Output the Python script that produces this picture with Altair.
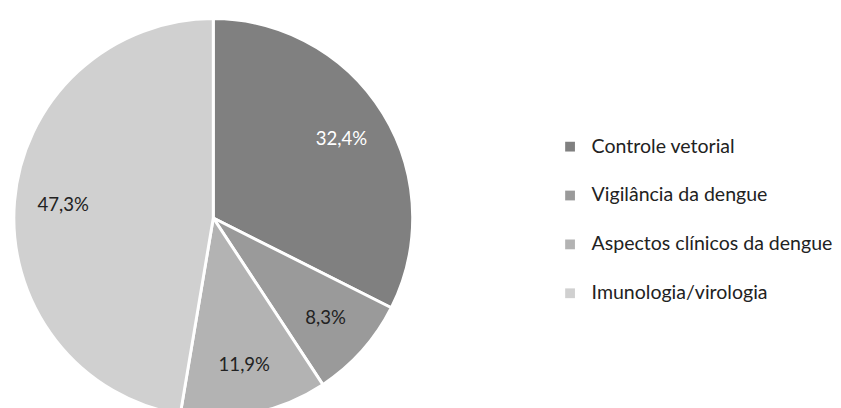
import altair as alt
import pandas as pd

categories = ["Controle vetorial", "Vigilância da dengue", "Aspectos clínicos da dengue", "Imunologia/virologia"]
values = [32.4, 8.3, 11.9, 47.3]
labels = ["32,4%", "8,3%", "11,9%", "47,3%"]
colors = ["#808080", "#9a9a9a", "#b3b3b3", "#d0d0d0"]
label_colors = ["#ffffff", "#222222", "#222222", "#222222"]

df = pd.DataFrame({
    "cat": categories,
    "val": values,
    "label": labels,
    "order": list(range(len(categories))),
    "lc": label_colors,
})

FONT = "Lato"

base = alt.Chart(df).encode(
    theta=alt.Theta("val:Q", stack=True),
    order=alt.Order("order:Q"),
    x=alt.value(205),
    y=alt.value(205),
)

pie = base.mark_arc(stroke="white", strokeWidth=3, outerRadius=204).encode(
    color=alt.Color(
        "cat:N",
        scale=alt.Scale(domain=categories, range=colors),
        sort=categories,
        legend=alt.Legend(
            title=None,
            orient="none",
            legendX=560,
            legendY=122,
            symbolType="square",
            symbolSize=100,
            symbolStrokeWidth=0,
            labelFont=FONT,
            labelFontSize=20,
            labelColor="#222222",
            rowPadding=30,
            labelOffset=12,
            labelLimit=400,
        ),
    ),
)

text = base.mark_text(font=FONT, fontSize=19, radius=154).encode(
    text="label:N",
    color=alt.Color("lc:N", scale=None),
)

chart = (pie + text).properties(width=410, height=392, padding=0).configure_view(strokeWidth=0, stroke=None)

chart.save("out.html", embed_options={"renderer": "svg", "actions": False})
